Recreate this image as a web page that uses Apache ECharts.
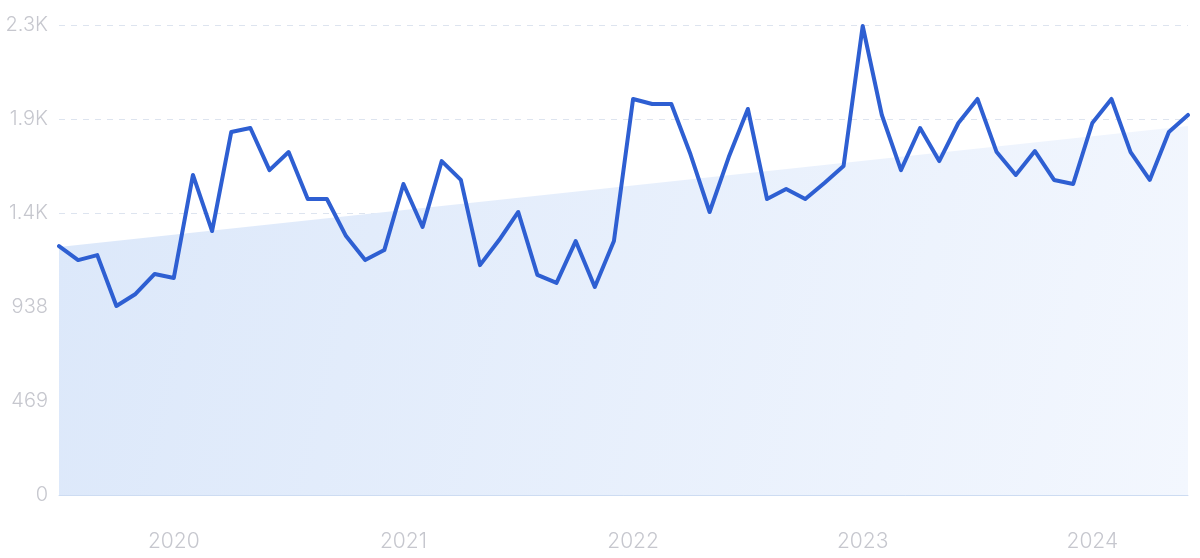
<!DOCTYPE html>
<html>
<head>
<meta charset="utf-8">
<script src="https://cdn.jsdelivr.net/npm/echarts@6/dist/echarts.min.js"></script>
<style>
html,body{margin:0;padding:0;background:#fff;}
#chart{width:1200px;height:558px;}
</style>
</head>
<body>
<div id="chart"></div>
<script>
// Months Jul 2019 .. Jun 2024
const months = [];
(function(){ let y=2019, m=7; for(let i=0;i<60;i++){ months.push(y+'-'+(m<10?'0'+m:m)); m++; if(m>12){m=1;y++;} } })();

const values = [
  1242, 1172, 1197, 943, 1003, 1103, 1083, 1597, 1317, 1811,
  1831, 1621, 1711, 1477, 1477, 1292, 1172, 1222, 1552, 1337,
  1666, 1572, 1147, 1272, 1412, 1098, 1058, 1267, 1038, 1267,
  1976, 1951, 1951, 1700, 1412, 1686, 1926, 1477, 1527, 1477,
  1557, 1641, 2340, 1896, 1621, 1831, 1666, 1856, 1976, 1711,
  1597, 1716, 1572, 1552, 1856, 1976, 1711, 1572, 1811, 1896
];

const trendStart = 1237;
const trendEnd = 1841;

const yTicks = [0, 469, 938, 1407, 1876, 2345];
const yTickLabels = ['0', '469', '938', '1.4K', '1.9K', '2.3K'];

const chart = echarts.init(document.getElementById('chart'), null, {renderer:'canvas'});
const labelColor = '#c6c7ce';
chart.setOption({
  animation: false,
  grid: {left: 59, right: 12, top: 25, bottom: 63},
  xAxis: [{
    type: 'category',
    data: months,
    boundaryGap: false,
    axisLine: {show: true, lineStyle: {color: '#cddcf2', width: 1}},
    axisTick: {show: false},
    splitLine: {show: false},
    axisLabel: {
      color: labelColor, fontSize: 21, fontFamily: 'Inter', fontWeight: 300, margin: 36,
      interval: function(idx, val){ return val.slice(5) === '01'; },
      formatter: function(val){ return val.slice(0,4); }
    }
  }, {
    type: 'value', min: 0, max: months.length - 1, show: false
  }],
  yAxis: {
    type: 'value', min: 0, max: yTicks[yTicks.length-1], interval: 469,
    axisLine: {show: false}, axisTick: {show: false},
    splitLine: {show: true, lineStyle: {color: '#dde4ef', type: [6, 6], width: 1}},
    axisLabel: {
      color: labelColor, fontSize: 20, fontFamily: 'Inter', fontWeight: 300, margin: 11,
      formatter: function(v){ const i = yTicks.indexOf(v); return i >= 0 ? yTickLabels[i] : ''; }
    }
  },
  series: [{
    type: 'line',
    xAxisIndex: 1,
    data: [[0, trendStart], [months.length - 1, trendEnd]],
    symbol: 'none',
    lineStyle: {width: 0, opacity: 0},
    areaStyle: {
      opacity: 1,
      color: new echarts.graphic.LinearGradient(0, 0.3, 1, 1, [
        {offset: 0, color: '#dce8fa'},
        {offset: 1, color: '#f3f7fe'}
      ])
    },
    z: 1, silent: true
  }, {
    type: 'line',
    data: values,
    symbol: 'none',
    lineStyle: {color: '#2e5fd2', width: 4, join: 'round', cap: 'round'},
    z: 3
  }]
});
</script>
</body>
</html>
